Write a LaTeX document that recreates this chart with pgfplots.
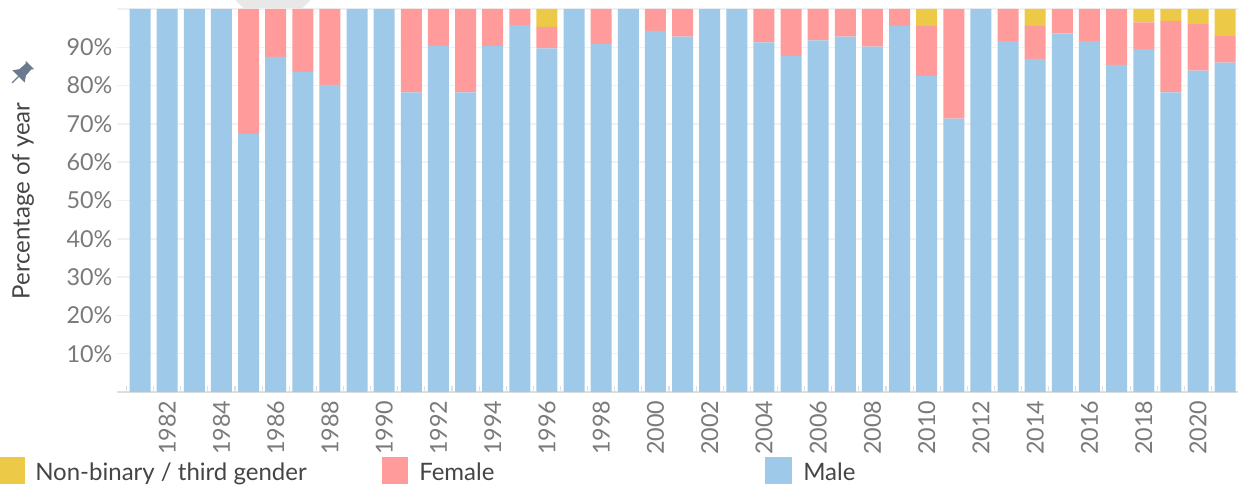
\documentclass[border=0pt]{standalone}
\usepackage{fontspec}
\setmainfont{Lato}
\usepackage{pgfplots}
\usepackage{pgfplotstable}
\pgfplotsset{compat=1.18}
\definecolor{cmale}{HTML}{9FC9E8}
\definecolor{cfemale}{HTML}{FF9C9B}
\definecolor{cnb}{HTML}{EDC948}
\definecolor{ctick}{HTML}{7A7A7A}
\definecolor{ctext}{HTML}{454545}
\definecolor{cgrid}{HTML}{F1F1F1}
\definecolor{cpin}{HTML}{6B7B8F}
\pgfplotstableread{
year male female nb
1981 100 0 0
1982 100 0 0
1983 100 0 0
1984 100 0 0
1985 67.3 32.7 0
1986 87.5 12.5 0
1987 83.5 16.5 0
1988 80.2 19.8 0
1989 100 0 0
1990 100 0 0
1991 78.2 21.8 0
1992 90.3 9.7 0
1993 78.2 21.8 0
1994 90.3 9.7 0
1995 95.8 4.2 0
1996 89.7 5.6 4.7
1997 100 0 0
1998 90.8 9.2 0
1999 100 0 0
2000 94.3 5.7 0
2001 92.8 7.2 0
2002 100 0 0
2003 100 0 0
2004 91.3 8.7 0
2005 87.7 12.3 0
2006 91.8 8.2 0
2007 92.8 7.2 0
2008 90.2 9.8 0
2009 95.6 4.4 0
2010 82.5 13.1 4.4
2011 71.4 28.6 0
2012 100 0 0
2013 91.6 8.4 0
2014 87.0 8.6 4.4
2015 93.6 6.4 0
2016 91.6 8.4 0
2017 85.4 14.6 0
2018 89.5 7.0 3.5
2019 78.2 18.7 3.1
2020 83.9 12.2 3.9
2021 86.0 7.0 7.0
}\gendertable
\begin{document}
\begin{tikzpicture}
\path[use as bounding box] (0pt,0pt) rectangle (930.75pt,364.5pt);
\begin{scope}
\clip (150pt,357.75pt) rectangle (255pt,364.5pt);
\fill[black!9] (204.75pt,387pt) circle (36pt);
\end{scope}
\begin{axis}[
  at={(87.75pt,70.5pt)}, anchor=south west,
  scale only axis, width=840.75pt, height=287.25pt,
  xmin=1980.15, xmax=2021.475,
  ymin=0, ymax=100,
  ybar stacked, bar width=15.75pt,
  axis x line*=bottom,
  axis y line*=left,
  x axis line style={draw=black!13,line width=0.9pt,-},
  y axis line style={draw=none,-},
  xtick={1982,1984,...,2020},
  xticklabels={1982,1984,1986,1988,1990,1992,1994,1996,1998,2000,2002,2004,2006,2008,2010,2012,2014,2016,2018,2020},
  minor xtick={1980.5,1981.5,...,2021.5},
  major tick length=0pt,
  minor tick length=4.5pt,
  minor tick style={draw=black!13,line width=0.8pt},
  x tick label style={rotate=90,anchor=east,font=\fontsize{17.5}{17.5}\selectfont,text=ctick},
  xticklabel shift=3pt,
  ytick={10,20,...,90},
  extra y ticks={100},
  extra y tick labels={},
  yticklabel={\pgfmathprintnumber{\tick}\%},
  /pgf/number format/assume math mode=true,
  y tick label style={font=\fontsize{17.5}{17.5}\selectfont,text=ctick},
  yticklabel shift=0pt,
  ymajorgrids,
  grid style={draw=cgrid,line width=1.1pt},
  extra tick style={grid style={draw=cgrid,line width=1.1pt}},
]
\addplot[fill=cmale,draw=none] table[x=year,y=male]{\gendertable};
\addplot[fill=cfemale,draw=none] table[x=year,y=female]{\gendertable};
\addplot[fill=cnb,draw=none] table[x=year,y=nb]{\gendertable};
\end{axis}
\begin{scope}[x=0.75pt,y=-0.75pt,yshift=364.5pt]
\node[rotate=90,text=ctext,font=\fontsize{18}{18}\selectfont] at (23,201) {Percentage of year};
\begin{scope}[shift={(21,74)},rotate=-45,scale=1.15]
\fill[cpin] (-5,-11) -- (5,-11) -- (3.5,-9) -- (4,-2) -- (7.5,3) -- (-7.5,3) -- (-4,-2) -- (-3.5,-9) -- cycle;
\draw[cpin,line width=1pt] (0,3) -- (0,11);
\end{scope}
\fill[cnb] (0,457) rectangle (25,484);
\node[anchor=base west,inner sep=0pt,text=ctext,font=\fontsize{18}{18}\selectfont] at (35,480) {Non-binary / third gender};
\fill[cfemale] (382,457) rectangle (408,484);
\node[anchor=base west,inner sep=0pt,text=ctext,font=\fontsize{18}{18}\selectfont] at (419,480) {Female};
\fill[cmale] (765,457) rectangle (792,484);
\node[anchor=base west,inner sep=0pt,text=ctext,font=\fontsize{18}{18}\selectfont] at (803,480) {Male};
\end{scope}
\end{tikzpicture}
\end{document}
